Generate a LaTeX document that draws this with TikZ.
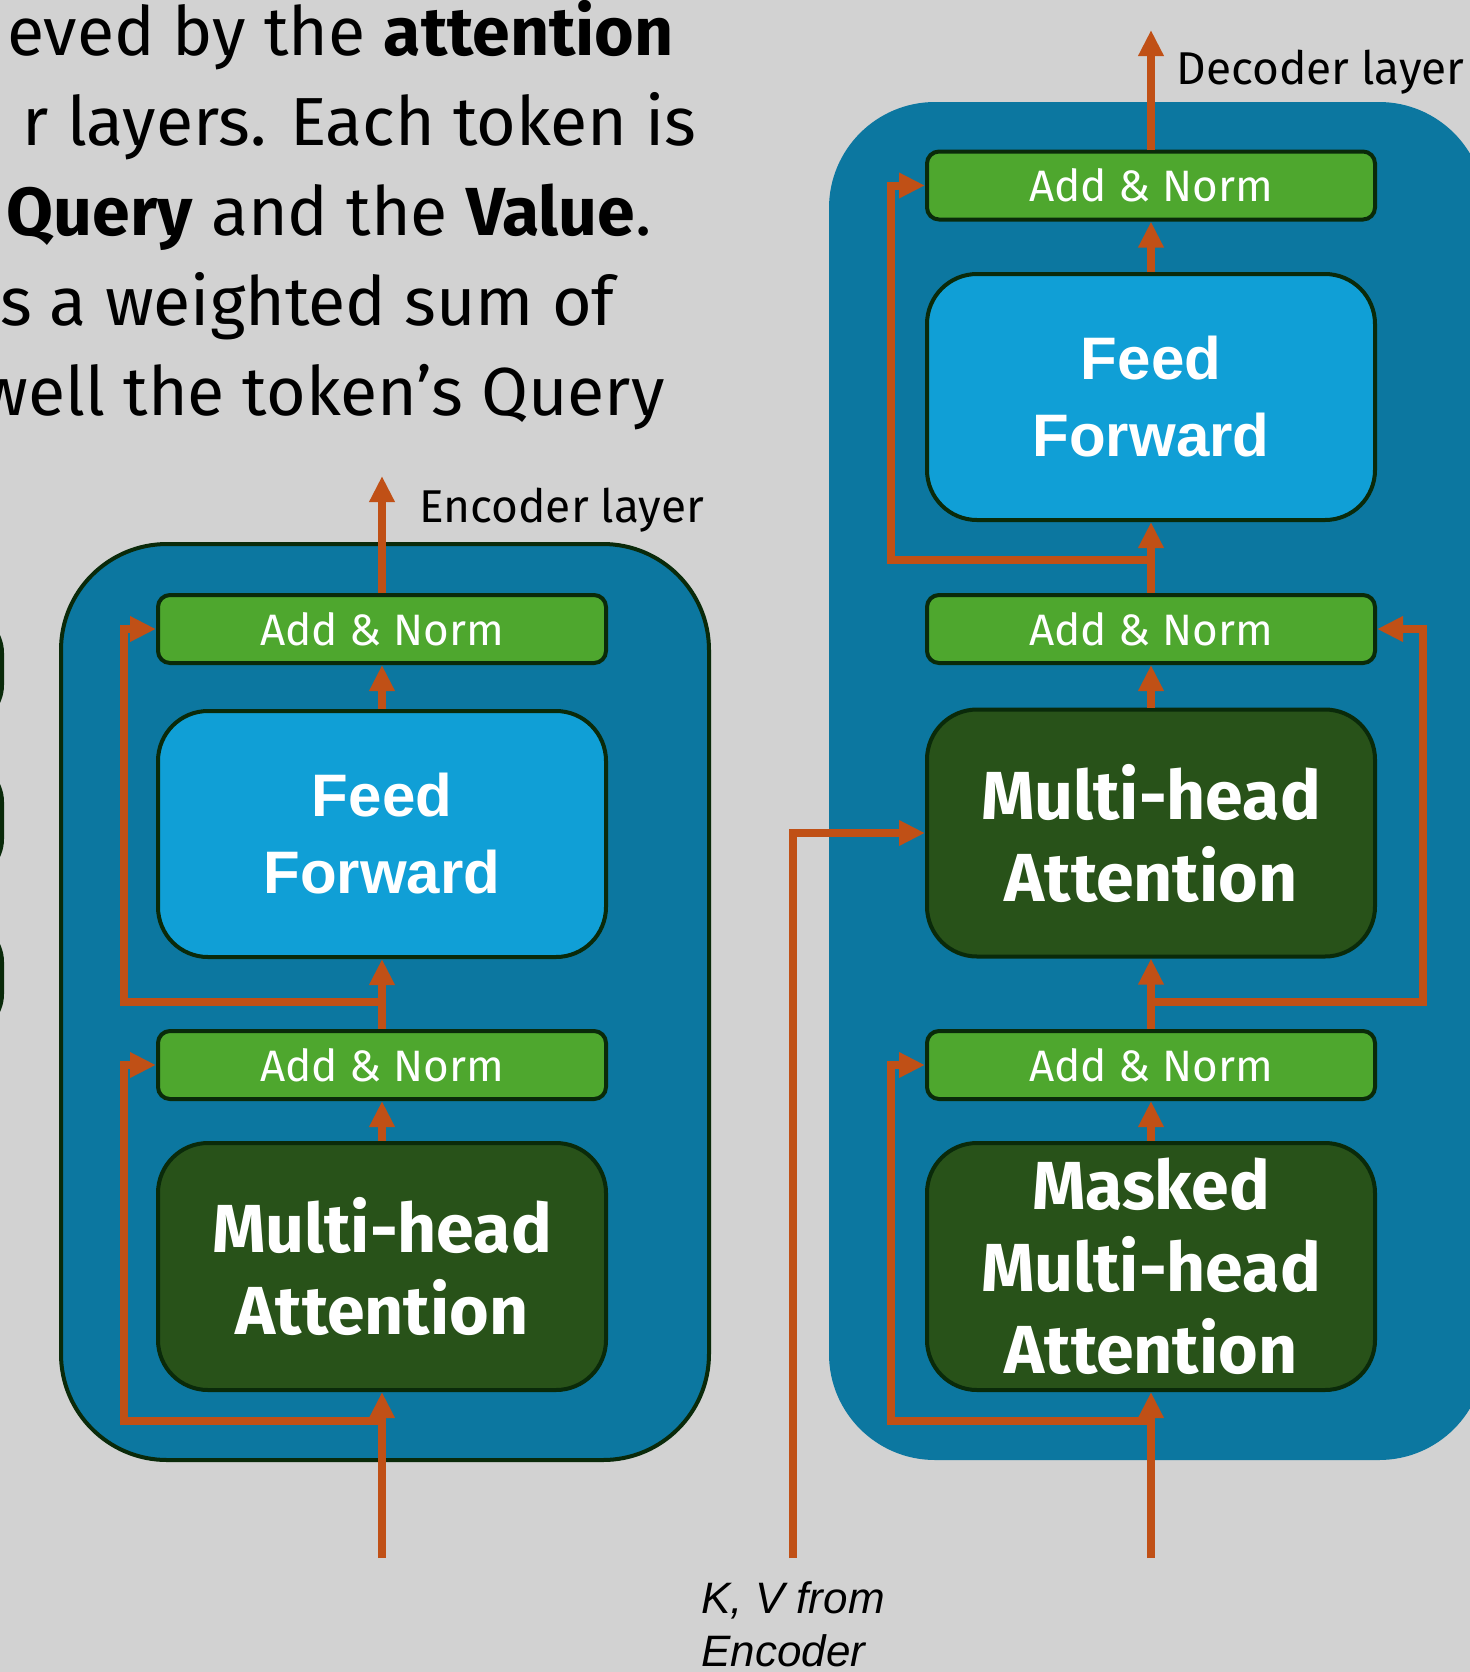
\documentclass[tikz,border=0pt]{standalone}
\usepackage{fontspec}
\setmainfont{Fira Sans}
\newfontfamily\arialf{Liberation Sans}
\usetikzlibrary{arrows.meta}
\definecolor{bg}{RGB}{210,210,210}
\definecolor{outerblue}{RGB}{12,119,160}
\definecolor{ang}{RGB}{78,167,46}
\definecolor{ffblue}{RGB}{16,159,214}
\definecolor{mhag}{RGB}{40,82,25}
\definecolor{edgec}{RGB}{10,42,10}
\definecolor{arrc}{RGB}{192,80,22}
\begin{document}
\begin{tikzpicture}[x=0.5pt,y=-0.5pt,
  layerbox/.style={fill=outerblue, rounded corners=53pt, inner sep=0pt},
  addnorm/.style={draw=edgec, line width=2pt, fill=ang, rounded corners=6pt, minimum width=224pt, minimum height=34pt, inner sep=0pt, text=white, font=\fontsize{22}{26}\selectfont},
  ffbox/.style={draw=edgec, line width=2pt, fill=ffblue, rounded corners=25pt, minimum width=224pt, minimum height=123pt, inner sep=0pt, align=center, text=white, font=\arialf\bfseries\fontsize{30}{38.5}\selectfont},
  mhabox/.style={draw=edgec, line width=2pt, fill=mhag, rounded corners=25pt, minimum width=224pt, minimum height=123.5pt, inner sep=0pt, align=center, text=white, font=\bfseries\fontsize{34}{41}\selectfont},
  arr/.style={draw=arrc, line width=4pt, -{Triangle[width=12pt,length=13pt]}},
  bodytext/.style={anchor=base east, inner sep=0pt, font=\fontsize{34}{45}\selectfont},
  lbl/.style={anchor=base west, inner sep=0pt, font=\fontsize{23}{28}\selectfont}
]
\fill[bg] (0,0) rectangle (1470,1672);
\useasboundingbox (0,0) rectangle (1470,1672);
\clip (0,0) rectangle (1470,1672);

% partial boxes at left edge
\draw[edgec, line width=2pt, rounded corners=20pt] (-300,613) rectangle (2,725);
\draw[edgec, line width=2pt, rounded corners=20pt] (-300,762) rectangle (2,879);
\draw[edgec, line width=2pt, rounded corners=20pt] (-300,922) rectangle (2,1034);

% paragraph text
\node[bodytext] (t1) at (674,55) {eved by the \textbf{attention}};
\node[bodytext] (t2) at (697,145) {r layers. Each token is};
\node[bodytext] (t3) at (652,235) {\textbf{Query} and the \textbf{Value}.};
\node[bodytext] (t4) at (615,325) {s a weighted sum of};
\node[bodytext] (t5) at (665,415) {well the token’s Query};

% layer boxes
\node[layerbox, draw=edgec, line width=2pt, minimum width=324pt, minimum height=458pt] (enc) at (385,1002) {};
\node[layerbox, minimum width=328pt, minimum height=679pt] (dec) at (1157,781) {};

% encoder blocks
\node[addnorm] (encAN1) at (382,629) {Add \& Norm};
\node[ffbox] (encFF) at (382,834) {Feed\\Forward};
\node[addnorm] (encAN2) at (382,1065) {Add \& Norm};
\node[mhabox] (encMHA) at (382,1266.5) {Multi-head\\Attention};

% decoder blocks
\node[addnorm] (decAN1) at (1151,185.5) {Add \& Norm};
\node[ffbox] (decFF) at (1151,397) {Feed\\Forward};
\node[addnorm] (decAN2) at (1151,629) {Add \& Norm};
\node[mhabox] (decMHA) at (1151,833) {Multi-head\\Attention};
\node[addnorm] (decAN3) at (1151,1065) {Add \& Norm};
\node[mhabox] (decMMHA) at (1151,1266.5) {Masked\\Multi-head\\Attention};

% coordinates
\coordinate (encin) at (382,1558);
\coordinate (encout) at (382,476);
\coordinate (encj1) at (382,1421);
\coordinate (encj2) at (382,1002);
\coordinate (decin) at (1151,1558);
\coordinate (decout) at (1151,30);
\coordinate (decj1) at (1151,1421);
\coordinate (decj2) at (1151,1002);
\coordinate (decj3) at (1151,560);
\coordinate (kvin) at (793,1558);

% encoder arrows
\draw[arr] (encin) -- (encMHA.south);
\draw[arr] (encj1) -- (124,1421) |- (encAN2.west);
\draw[arr] (encMHA.north) -- (encAN2.south);
\draw[arr] (encAN2.north) -- (encFF.south);
\draw[arr] (encj2) -- (124,1002) |- (encAN1.west);
\draw[arr] (encFF.north) -- (encAN1.south);
\draw[arr] (encAN1.north) -- (encout);

% decoder arrows
\draw[arr] (decin) -- (decMMHA.south);
\draw[arr] (decj1) -- (891,1421) |- (decAN3.west);
\draw[arr] (decMMHA.north) -- (decAN3.south);
\draw[arr] (decAN3.north) -- (decMHA.south);
\draw[arr] (decj2) -- (1423,1002) |- (decAN2.east);
\draw[arr] (kvin) |- (decMHA.west);
\draw[arr] (decMHA.north) -- (decAN2.south);
\draw[arr] (decAN2.north) -- (decFF.south);
\draw[arr] (decj3) -- (891,560) |- (decAN1.west);
\draw[arr] (decFF.north) -- (decAN1.south);
\draw[arr] (decAN1.north) -- (decout);

% labels
\node[lbl] (enclbl) at (419,522) {Encoder layer};
\node[lbl] (declbl) at (1176,84) {Decoder layer};
\node[anchor=base west, inner sep=0pt, align=left, font=\arialf\itshape\fontsize{22}{26.5}\selectfont] (kvlbl) at (701,1666) {K, V from\\Encoder};
\end{tikzpicture}
\end{document}
